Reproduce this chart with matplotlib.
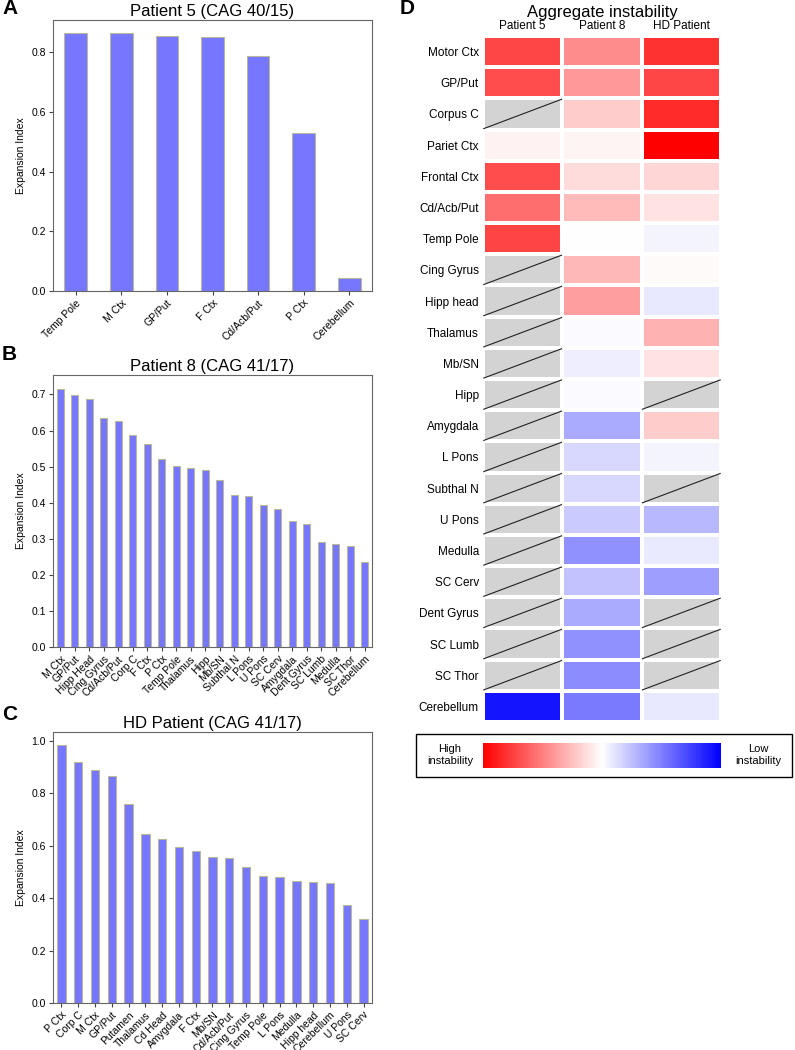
import numpy as np
import matplotlib
matplotlib.use("Agg")
import matplotlib.pyplot as plt
from matplotlib.patches import Rectangle

plt.rcParams['font.family'] = ['Liberation Sans', 'DejaVu Sans']

# Panel A - Patient 5
p5_regions = ['Temp Pole', 'M Ctx', 'GP/Put', 'F Ctx', 'Cd/Acb/Put', 'P Ctx', 'Cerebellum']
p5_values = [0.865, 0.863, 0.856, 0.852, 0.788, 0.530, 0.043]

# Panel B - Patient 8
p8_regions = ['M Ctx', 'GP/Put', 'Hipp Head', 'Cing Gyrus', 'Cd/Acb/Put', 'Corp C', 'F Ctx',
              'P Ctx', 'Temp Pole', 'Thalamus', 'Hipp', 'Mb/SN', 'Subthal N', 'L Pons',
              'U Pons', 'SC Cerv', 'Amygdala', 'Dent Gyrus', 'SC Lumb', 'Medulla',
              'SC Thor', 'Cerebellum']
p8_values = [0.715, 0.699, 0.688, 0.635, 0.627, 0.588, 0.564, 0.521, 0.501, 0.495, 0.490,
             0.463, 0.422, 0.419, 0.394, 0.383, 0.348, 0.342, 0.291, 0.285, 0.280, 0.236]

# Panel C - HD patient
hd_regions = ['P Ctx', 'Corp C', 'M Ctx', 'GP/Put', 'Putamen', 'Thalamus', 'Cd Head',
              'Amygdala', 'F Ctx', 'Mb/SN', 'Cd/Acb/Put', 'Cing Gyrus', 'Temp Pole',
              'L Pons', 'Medulla', 'Hipp head', 'Cerebellum', 'U Pons', 'SC Cerv']
hd_values = [0.986, 0.920, 0.888, 0.865, 0.761, 0.646, 0.625, 0.595, 0.580, 0.557, 0.552,
             0.519, 0.483, 0.481, 0.464, 0.462, 0.459, 0.373, 0.319]

# Panel D - aggregate instability (red = high, blue = low, nan = not sampled)
heat_rows = ['Motor Ctx', 'GP/Put', 'Corpus C', 'Pariet Ctx', 'Frontal Ctx', 'Cd/Acb/Put',
             'Temp Pole', 'Cing Gyrus', 'Hipp head', 'Thalamus', 'Mb/SN', 'Hipp',
             'Amygdala', 'L Pons', 'Subthal N', 'U Pons', 'Medulla', 'SC Cerv',
             'Dent Gyrus', 'SC Lumb', 'SC Thor', 'Cerebellum']
heat_cols = ['Patient 5', 'Patient 8', 'HD Patient']
nan = np.nan
heat_p5 = [0.72, 0.70, nan, 0.05, 0.70, 0.57, 0.73, nan, nan, nan, nan, nan,
           nan, nan, nan, nan, nan, nan, nan, nan, nan, -0.92]
heat_p8 = [0.45, 0.40, 0.20, 0.04, 0.14, 0.27, 0.00, 0.28, 0.38, -0.02, -0.07, -0.02,
           -0.33, -0.15, -0.15, -0.21, -0.43, -0.24, -0.33, -0.43, -0.45, -0.52]
heat_hd = [0.80, 0.72, 0.83, 1.00, 0.16, 0.11, -0.04, 0.02, -0.09, 0.30, 0.11, nan,
           0.20, -0.04, nan, -0.28, -0.08, -0.38, nan, nan, nan, -0.09]

W, H = 795, 1050
fig = plt.figure(figsize=(W / 100, H / 100), dpi=100)


def fig_rect(x0, y0, x1, y1):
    # pixel box (top-left origin) -> figure fraction
    return [x0 / W, 1 - y1 / H, (x1 - x0) / W, (y1 - y0) / H]


def bar_panel(rect, regions, values, title, ymax, yticks):
    ax = fig.add_axes(rect)
    x = np.arange(len(regions))
    ax.bar(x, values, width=0.5, color='#7676ff', edgecolor='#b9b99a', linewidth=0.8)
    ax.set_xlim(-0.5, len(regions) - 0.5)
    ax.set_ylim(0, ymax)
    ax.set_yticks(yticks)
    ax.set_yticklabels([f'{t:.1f}' for t in yticks], fontsize=7.5)
    ax.set_xticks(x)
    ax.set_xticklabels(regions, rotation=45, ha='right', rotation_mode='anchor', fontsize=7.5)
    ax.set_ylabel('Expansion Index', fontsize=7.5)
    ax.set_title(title, fontsize=12, pad=3)
    for s in ax.spines.values():
        s.set_color('#666666')
    ax.tick_params(length=3, color='#444444', pad=2)
    return ax


bar_panel(fig_rect(53, 20, 372, 291), p5_regions, p5_values, 'Patient 5 (CAG 40/15)',
          0.908, [0.0, 0.2, 0.4, 0.6, 0.8])
bar_panel(fig_rect(53, 375, 372, 647), p8_regions, p8_values, 'Patient 8 (CAG 41/17)',
          0.754, [0.0, 0.1, 0.2, 0.3, 0.4, 0.5, 0.6, 0.7])
bar_panel(fig_rect(53, 732, 372, 1003), hd_regions, hd_values, 'HD Patient (CAG 41/17)',
          1.034, [0.0, 0.2, 0.4, 0.6, 0.8, 1.0])

fig.text(2 / W, 1 - 9 / H, 'A', fontsize=15, fontweight='bold', va='center')
fig.text(2 / W, 1 - 355 / H, 'B', fontsize=15, fontweight='bold', va='center')
fig.text(2 / W, 1 - 714 / H, 'C', fontsize=15, fontweight='bold', va='center')
fig.text(400 / W, 1 - 9 / H, 'D', fontsize=15, fontweight='bold', va='center')

# heatmap
data = np.ma.masked_invalid(np.array([heat_p5, heat_p8, heat_hd]).T)
cmap = plt.get_cmap('bwr').copy()
cmap.set_bad('#d3d3d3')
axh = fig.add_axes(fig_rect(483, 36, 721, 722))
mesh = axh.pcolormesh(data, cmap=cmap, vmin=-1, vmax=1, edgecolors='white', linewidth=1.5)
axh.set_xlim(0, len(heat_cols))
axh.set_ylim(len(heat_rows), 0)
for i, j in zip(*np.where(data.mask)):
    axh.plot([j + 0.01, j + 0.99], [i + 0.97, i + 0.03], color='#222222', lw=0.8)
axh.set_yticks(np.arange(len(heat_rows)) + 0.5)
axh.set_yticklabels(heat_rows, fontsize=8.5)
axh.set_xticks(np.arange(len(heat_cols)) + 0.5)
axh.set_xticklabels(heat_cols, fontsize=8.5)
axh.xaxis.tick_top()
axh.tick_params(length=0, pad=3)
for s in axh.spines.values():
    s.set_visible(False)
axh.set_title('Aggregate instability', fontsize=12, pad=14)

# colour scale legend
cax = fig.add_axes(fig_rect(483, 743, 721, 768))
cb = fig.colorbar(mesh, cax=cax, orientation='horizontal')
cb.outline.set_visible(False)
cb.set_ticks([])
cax.invert_xaxis()
box = Rectangle((416 / W, 1 - 777 / H), 376 / W, 43 / H, transform=fig.transFigure,
                fill=False, edgecolor='black', linewidth=1)
fig.patches.append(box)
fig.text(450 / W, 1 - 755 / H, 'High\ninstability', fontsize=8, ha='center', va='center')
fig.text(758 / W, 1 - 755 / H, 'Low\ninstability', fontsize=8, ha='center', va='center')

fig.savefig('out.png', dpi=100)
